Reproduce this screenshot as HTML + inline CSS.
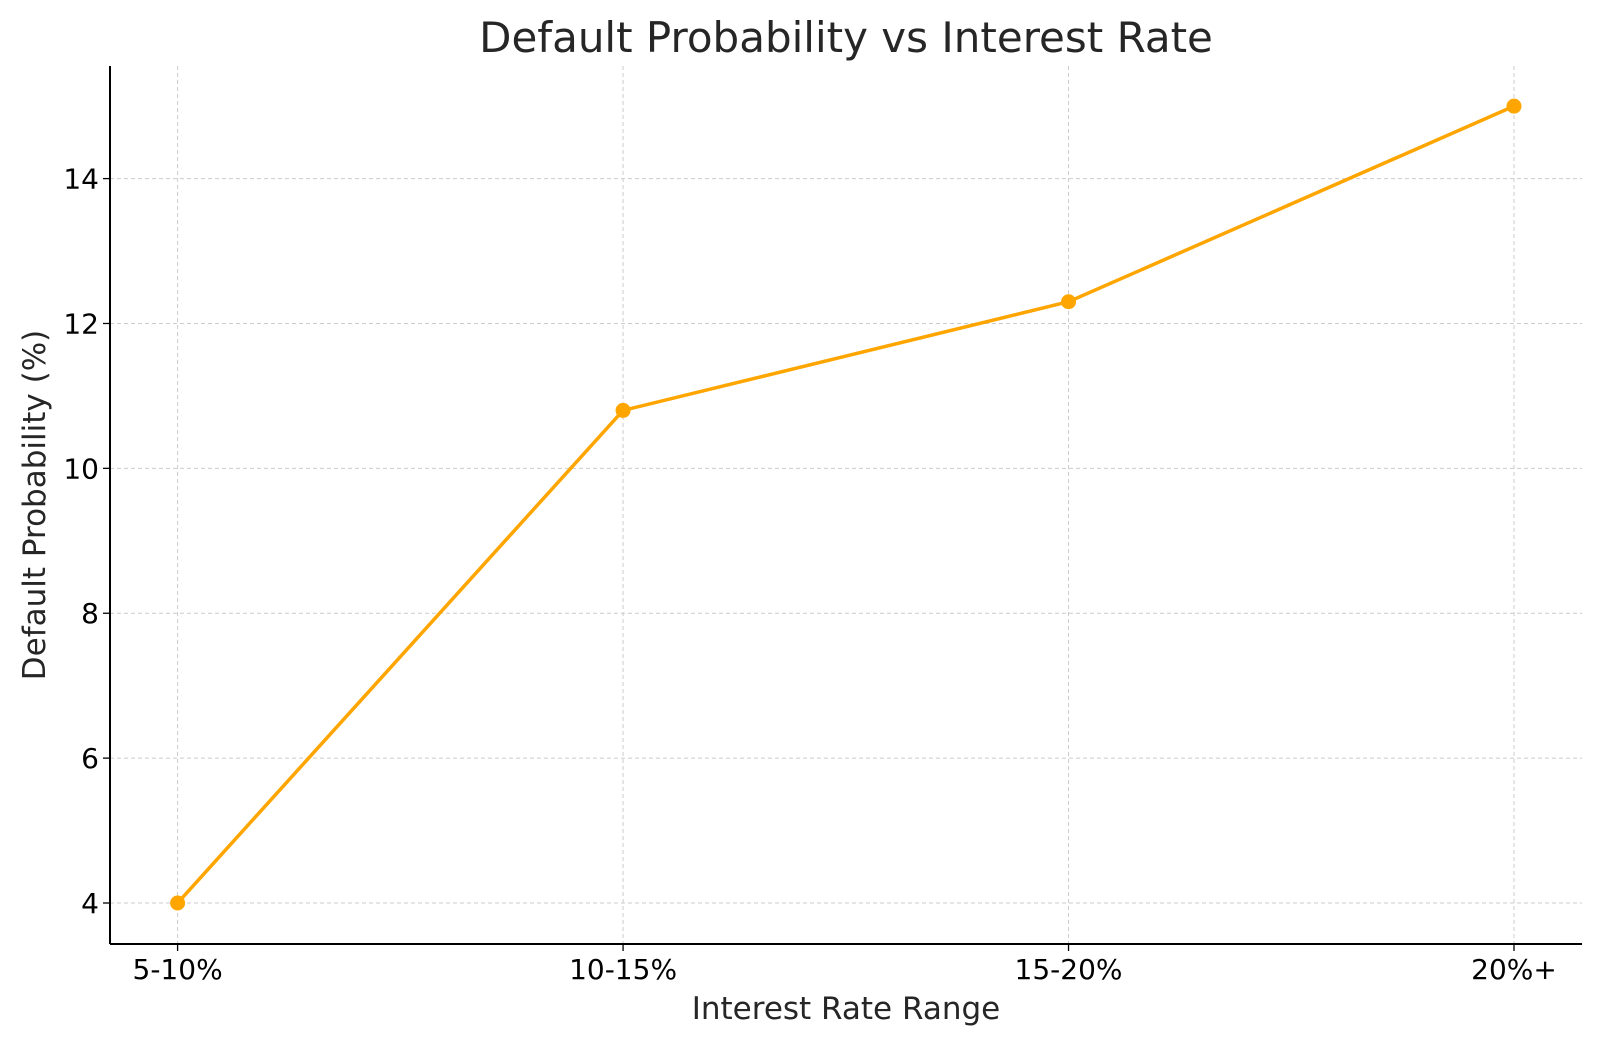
<!DOCTYPE html>
<html><head><meta charset="utf-8"><style>
body{margin:0;background:#fff;}
svg{display:block;font-family:"DejaVu Sans","Liberation Sans",sans-serif;}
</style></head><body>
<svg id="chart" width="1600" height="1045" viewBox="0 0 1600 1045">
<g id="grid"></g>
<g id="axes"></g>
<g id="series"></g>
<text x="846" y="52" font-size="42" fill="#262626" text-anchor="middle">Default Probability vs Interest Rate</text>
<text x="846" y="1019" font-size="31" fill="#262626" text-anchor="middle">Interest Rate Range</text>
<text x="0" y="0" font-size="31" fill="#262626" text-anchor="middle" transform="translate(45,505) rotate(-90)">Default Probability (%)</text>
</svg>
<script>
const categories=["5-10%","10-15%","15-20%","20%+"];
const values=[4,10.8,12.3,15];
const yTicks=[4,6,8,10,12,14];
const NS="http://www.w3.org/2000/svg";
const L=110,R=1582,T=66,B=944;
function xs(i){return 177.6+i*(1514-177.6)/3;}
function ys(v){return 903+(v-4)*(178.6-903)/10;}
function mk(tag,attrs,parent){const e=document.createElementNS(NS,tag);for(const k in attrs)e.setAttribute(k,attrs[k]);parent.appendChild(e);return e;}
const grid=document.getElementById('grid'),axes=document.getElementById('axes'),series=document.getElementById('series');
categories.forEach((c,i)=>{
 const g=mk('line',{x1:xs(i),x2:xs(i),y1:T,y2:B,stroke:'#cccccc','stroke-width':1,'stroke-dasharray':'4,3'},grid);
 
 
 const t=mk('line',{x1:xs(i),x2:xs(i),y1:B,y2:B+7,stroke:'#000','stroke-width':1.3},axes);
 
 
 const lb=mk('text',{x:xs(i),y:979,'font-size':28,'text-anchor':'middle',fill:'#000'},axes);
 lb.textContent=c;
 
 
});
yTicks.forEach(v=>{
 const g=mk('line',{x1:L,x2:R,y1:ys(v),y2:ys(v),stroke:'#cccccc','stroke-width':1,'stroke-dasharray':'4,3'},grid);
 
 
 const t=mk('line',{x1:L-7,x2:L,y1:ys(v),y2:ys(v),stroke:'#000','stroke-width':1.3},axes);
 
 
 const lb=mk('text',{x:L-11,y:ys(v)+10,'font-size':28,'text-anchor':'end',fill:'#000'},axes);
 lb.textContent=v;
 
 
});
const sl=mk('line',{x1:L,x2:L,y1:T,y2:B,stroke:'#000','stroke-width':2},axes);


const sb=mk('line',{x1:L,x2:R,y1:B,y2:B,stroke:'#000','stroke-width':2},axes);


const pl=mk('polyline',{points:values.map((v,i)=>xs(i)+','+ys(v)).join(' '),fill:'none',stroke:'#FFA500','stroke-width':3.5},series);


values.forEach((v,i)=>{
 const c=mk('circle',{cx:xs(i),cy:ys(v),r:7.5,fill:'#FFA500'},series);
 
 
});
</script>
</body></html>
